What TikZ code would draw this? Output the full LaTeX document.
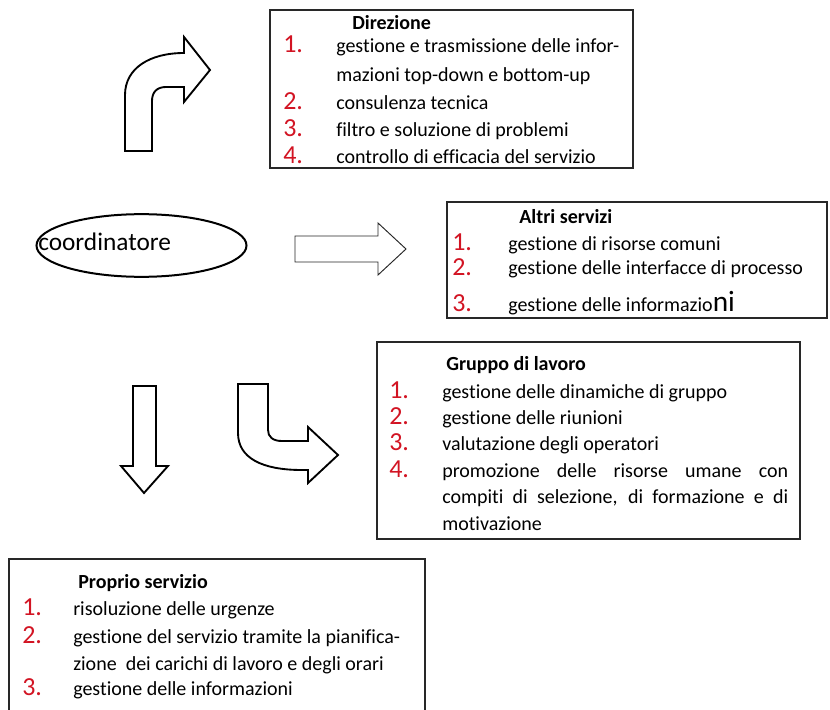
\documentclass[tikz,border=0pt]{standalone}
\usepackage{fontspec}
\setmainfont{Carlito}[Ligatures=NoCommon]
\usetikzlibrary{shapes.geometric}
\definecolor{numred}{RGB}{210,20,35}
\definecolor{boxgray}{RGB}{40,40,40}
\begin{document}
\begin{tikzpicture}[x=0.75pt,y=-0.75pt,
  txt/.style={anchor=base west,inner sep=0pt,font=\fontsize{15}{18}\selectfont},
  ttl/.style={anchor=base west,inner sep=0pt,font=\fontsize{15}{18}\selectfont\bfseries},
  nr/.style={anchor=base west,inner sep=0pt,text=numred,font=\fontsize{19.5}{22}\selectfont,text height=0.64em,text depth=0pt},
  box/.style={draw=boxgray,line width=1.1pt},
  blk/.style={draw=black,line width=1.4pt,fill=white,line join=miter},
  thinblk/.style={draw=black!85,line width=0.7pt,fill=white,line join=miter}]
\useasboundingbox (0,0) rectangle (830,709);

% ---------- Direzione ----------
\draw[box] (270,10) rectangle (633,168);
\node[ttl] (dt) at (352,30) {Direzione};
\node[nr] (d1n) at (283,53) {1.};
\node[txt] (d1a) at (336,53) {gestione e trasmissione delle infor-};
\node[txt] (d1b) at (336,82) {mazioni top-down e bottom-up};
\node[nr] (d2n) at (283,110) {2.};
\node[txt] (d2) at (336,110) {consulenza tecnica};
\node[nr] (d3n) at (283,137) {3.};
\node[txt] (d3) at (336,137) {filtro e soluzione di problemi};
\node[nr] (d4n) at (283,164) {4.};
\node[txt] (d4) at (336,164) {controllo di efficacia del servizio};

% ---------- coordinatore ----------
\node[draw=black,line width=1.5pt,ellipse,minimum width=157.5pt,minimum height=47pt,inner sep=0pt] (coord) at (141.5,245.5) {};
\node[anchor=base west,inner sep=0pt,font=\fontsize{19}{22}\selectfont] (ct) at (38,250) {coordinatore};

% ---------- Altri servizi ----------
\draw[box] (447,202) rectangle (827,318);
\node[ttl] (at) at (519,223) {Altri servizi};
\node[nr] (a1n) at (452,250) {1.};
\node[txt] (a1) at (508,250) {gestione di risorse comuni};
\node[nr] (a2n) at (452,275) {2.};
\node[txt] (a2) at (508,274) {gestione delle interfacce di processo};
\node[nr] (a3n) at (452,311) {3.};
\node[txt] (a3) at (508,311) {gestione delle informazio{\fontsize{22}{24}\selectfont ni}};

% ---------- Gruppo di lavoro ----------
\draw[box] (377,342) rectangle (800,539);
\node[ttl] (gt) at (446,370) {Gruppo di lavoro};
\node[nr] (g1n) at (389,398) {1.};
\node[txt] (g1) at (442,398) {gestione delle dinamiche di gruppo};
\node[nr] (g2n) at (389,424) {2.};
\node[txt] (g2) at (442,424) {gestione delle riunioni};
\node[nr] (g3n) at (389,450) {3.};
\node[txt] (g3) at (442,450) {valutazione degli operatori};
\node[nr] (g4n) at (389,477) {4.};
\node[txt] (g4a) at (442,477) {\makebox[259.5pt][s]{promozione delle risorse umane con}};
\node[txt] (g4b) at (442,503) {\makebox[259.5pt][s]{compiti di selezione, di formazione e di}};
\node[txt] (g4c) at (442,530) {motivazione};

% ---------- Proprio servizio ----------
\draw[box] (9,559) rectangle (425,720);
\node[ttl] (pt) at (78,588) {Proprio servizio};
\node[nr] (p1n) at (22,615) {1.};
\node[txt] (p1) at (73,615) {risoluzione delle urgenze};
\node[nr] (p2n) at (22,643) {2.};
\node[txt] (p2a) at (73,643) {gestione del servizio tramite la pianifica-};
\node[txt] (p2b) at (73,670) {zione\ \ dei carichi di lavoro e degli orari};
\node[nr] (p3n) at (22,695) {3.};
\node[txt] (p3) at (73,695) {gestione delle informazioni};

% ---------- block arrows ----------
% curved up-right
\draw[blk] (125,151) -- (125,95) .. controls (125,68) and (150,53) .. (184,53)
  -- (184,37) -- (210,70) -- (184,102) -- (184,87) -- (166,87)
  .. controls (157,87) and (152,92) .. (152,101) -- (152,151) -- cycle;
% straight right
\draw[thinblk] (295,236) -- (378,236) -- (378,223) -- (406,249) -- (378,275) -- (378,262) -- (295,262) -- cycle;
% down
\draw[blk] (133,386) -- (156,386) -- (156,466) -- (168,466) -- (144,493) -- (121,466) -- (133,466) -- cycle;
% curved down-right
\draw[blk] (238,384) -- (268,384) -- (268,430) .. controls (268,437) and (273,441) .. (282,441)
  -- (308,441) -- (308,427) -- (338,455) -- (308,483) -- (308,470) -- (302,470)
  .. controls (262,470) and (238,458) .. (238,433) -- cycle;
\end{tikzpicture}
\end{document}
